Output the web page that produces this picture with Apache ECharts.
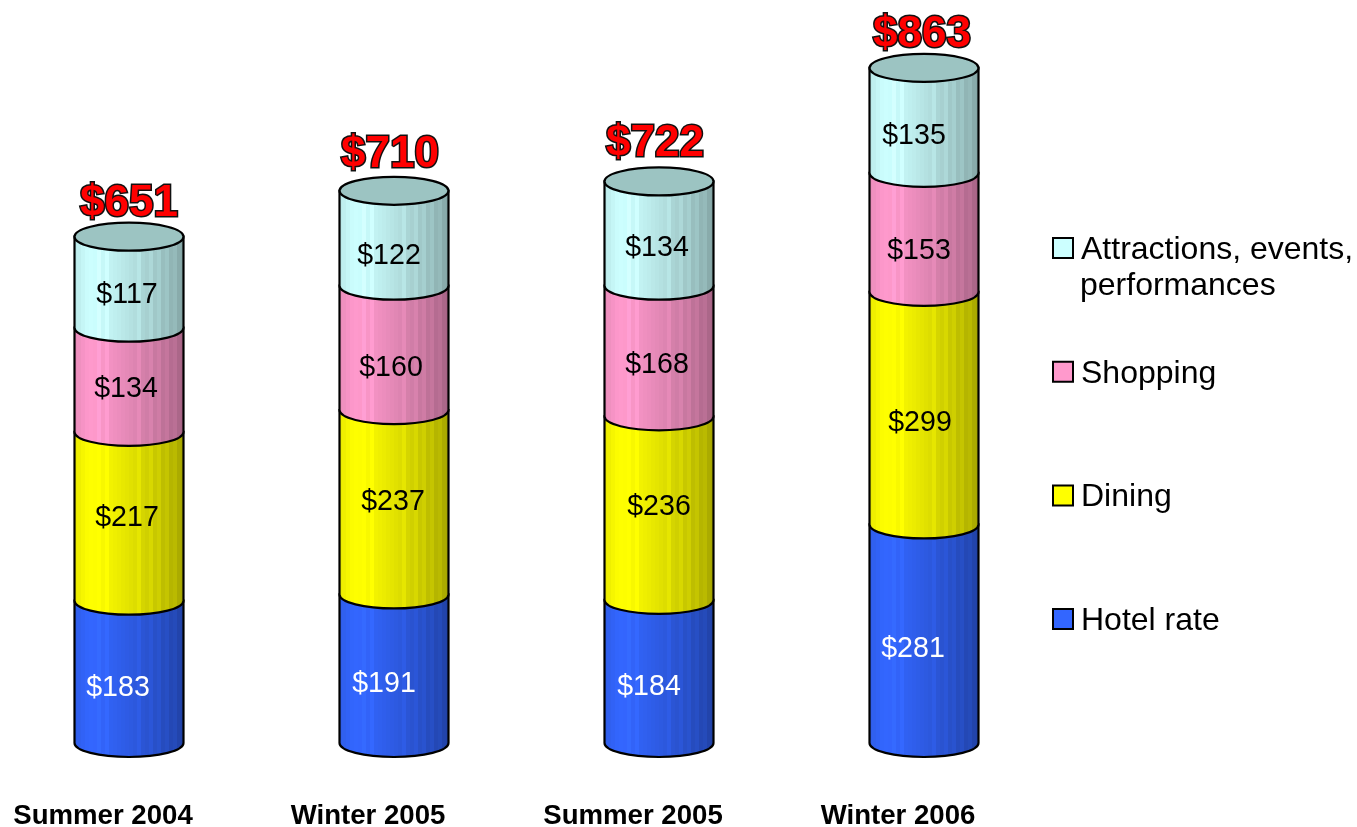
<!DOCTYPE html>
<html><head><meta charset="utf-8">
<style>html,body{margin:0;padding:0;background:#fff}#c{width:1357px;height:827px}</style>
<script src="https://cdn.jsdelivr.net/npm/echarts@6/dist/echarts.min.js"></script>
</head><body><div id="c"></div>
<script>
const categories = ['Summer 2004','Winter 2005','Summer 2005','Winter 2006'];
const hotelRate = [183,191,184,281];
const dining = [217,237,236,299];
const shopping = [134,160,168,153];
const attractions = [117,122,134,135];
const totals = [651,710,722,863];
const seriesNames = ['Hotel rate','Dining','Shopping','Attractions, events, performances'];

// styling tables
const baseColors = [[51,102,255],[255,255,0],[255,153,204],[204,255,255]];
const labelColors = ['#fff','#000','#000','#000'];
const labelFont = '28.6px "Liberation Sans", Arial, sans-serif';
const labelOffsets = [
  [[-11,16],[-2,2],[-3,9],[-2,13]],
  [[-10,15],[-1,0],[-3,20],[-5,18]],
  [[-10,16],[0,-1],[-2,14],[-2,15]],
  [[-11,15],[-4,15],[-5,19],[-10,16]]
];
const totalOffsets = [[0,-32.5],[-4,-35.6],[-4,-37.6],[-2,-33]];
const stripes = [0.22,0.3,0.6,0.7,0.76,0.84,0.9];
const ry = 14, barPx = 109;

function rgb(c,k){return 'rgb('+c.map(v=>Math.min(255,Math.round(v*k))).join(',')+')';}
function bright(t){return t<0.14 ? 0.9+0.1*t/0.14 : 1-0.36*Math.pow((t-0.14)/0.86,1.35);}
function gradient(c){
  const stops=[]; const n=28;
  for(let i=0;i<n;i++){
    const a=i/n,b=(i+1)/n,m=(a+b)/2;
    let k=bright(m);
    if(stripes.some(s=>s>=a&&s<b)) k*=1.06;
    stops.push({offset:a,color:rgb(c,k)},{offset:b,color:rgb(c,k)});
  }
  return {type:'linear',x:0,y:0,x2:1,y2:0,colorStops:stops};
}
const stacks=[hotelRate,dining,shopping,attractions];
function buildSeries(si){
  const data=categories.map((_,i)=>{
    let s=0; for(let k=0;k<si;k++) s+=stacks[k][i];
    return [i,s,s+stacks[si][i],stacks[si][i]];
  });
  return {
    type:'custom',name:seriesNames[si],z:2+si,
    itemStyle:{color:rgb(baseColors[si],1)},
    encode:{x:0,y:[1,2]},data,silent:true,
    renderItem(params,api){
      const i=api.value(0),p0=api.coord([i,api.value(1)]),p1=api.coord([i,api.value(2)]);
      const x0=p0[0]-barPx/2,x1=p0[0]+barPx/2,rx=barPx/2,yb=p0[1],yt=p1[1];
      const children=[{
        type:'path',
        shape:{pathData:`M${x0} ${yt}L${x0} ${yb}A${rx} ${ry} 0 0 0 ${x1} ${yb}L${x1} ${yt}Z`},
        style:{fill:gradient(baseColors[si]),stroke:'#000',lineWidth:2.2}
      }];
      if(si===3){
        children.push({type:'ellipse',shape:{cx:p0[0],cy:yt,rx,ry},
          style:{fill:'#9cc4c2',stroke:'#000',lineWidth:2.2}});
      }
      const off=labelOffsets[i][si];
      children.push({type:'text',z2:50,style:{
        text:'$'+api.value(3),x:p0[0]+off[0],y:(yb+yt)/2+off[1],
        textAlign:'center',textVerticalAlign:'middle',font:labelFont,fill:labelColors[si]}});
      return {type:'group',children};
    }
  };
}
const totalSeries={
  type:'custom',z:20,silent:true,encode:{x:0,y:1},
  data:categories.map((_,i)=>[i,stacks.reduce((a,s)=>a+s[i],0),totals[i]]),
  renderItem(params,api){
    const i=api.value(0),p=api.coord([i,api.value(1)]),o=totalOffsets[i];
    return {type:'text',style:{
      text:'$'+api.value(2),x:p[0]+o[0],y:p[1]+o[1],textAlign:'center',textVerticalAlign:'middle',
      font:'bold 44px "Liberation Sans", Arial, sans-serif',fill:'#ff0000',stroke:'#111',lineWidth:3,
      shadowColor:'rgba(0,0,0,0.35)',shadowBlur:1,shadowOffsetX:1,shadowOffsetY:1}};
  }
};
const legendFont={fontFamily:'"Liberation Sans", Arial, sans-serif',fontSize:32,color:'#000'};
const chart=echarts.init(document.getElementById('c'),null,{renderer:'canvas'});
chart.setOption({
  backgroundColor:'#fff',animation:false,
  grid:[{left:-3.5,width:1060,top:43,height:700,outerBoundsMode:'none'}],
  xAxis:[{type:'category',data:categories,axisLine:{show:false},axisTick:{show:false},splitLine:{show:false},
    axisLabel:{interval:0,margin:59,padding:[0,52,0,0],color:'#000',fontFamily:'"Liberation Sans", Arial, sans-serif',fontWeight:'bold',fontSize:27.6}}],
  yAxis:[{type:'value',min:0,max:900,show:false}],
  legend:{orient:'vertical',left:1047,top:229,itemWidth:20,itemHeight:20,itemGap:91.7,itemStyle:{borderColor:'#000',borderWidth:2},
    icon:'rect',data:[seriesNames[3],seriesNames[2],seriesNames[1],seriesNames[0]],selectedMode:false,
    formatter:n=>'{a|'+(n===seriesNames[3]?'Attractions, events,':n)+'}',
    textStyle:Object.assign({},legendFont,{padding:[0,0,0,3],rich:{a:Object.assign({},legendFont,{padding:[4,0,0,0]})}})},
  graphic:[{type:'text',left:1080,top:270,silent:true,style:{text:'performances',fill:'#000',font:'32px "Liberation Sans", Arial, sans-serif'}}],
  series:[buildSeries(0),buildSeries(1),buildSeries(2),buildSeries(3),totalSeries]
});
</script></body></html>
